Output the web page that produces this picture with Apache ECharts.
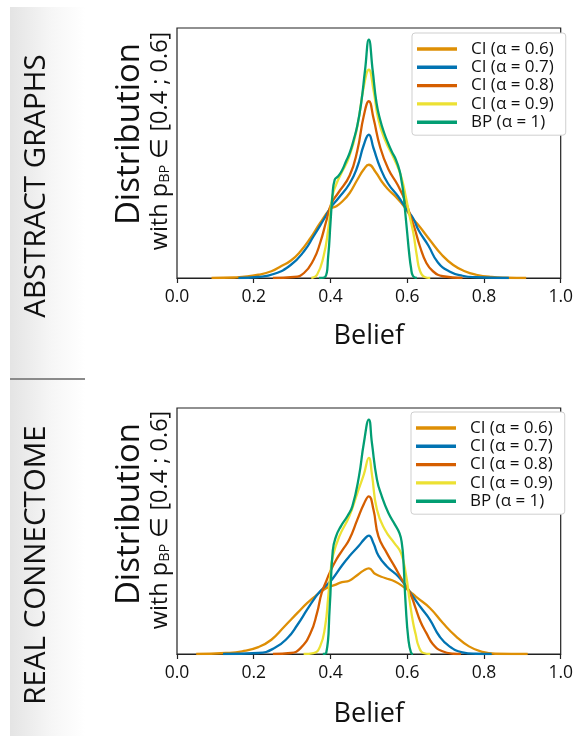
<!DOCTYPE html>
<html>
<head>
<meta charset="utf-8">
<script src="https://cdn.jsdelivr.net/npm/echarts@6/dist/echarts.min.js"></script>
<style>html,body{margin:0;padding:0;background:#fff;}#c{width:576px;height:736px;}</style>
</head>
<body>
<div id="c"></div>
<script>
// ---------- data ----------
const seriesNames = ['CI (α = 0.6)', 'CI (α = 0.7)', 'CI (α = 0.8)', 'CI (α = 0.9)', 'BP (α = 1)'];
const xTicks = [0.0, 0.2, 0.4, 0.6, 0.8, 1.0];
const panelTitles = ['ABSTRACT GRAPHS', 'REAL CONNECTOME'];

// Abstract graphs panel: [belief, density (arbitrary units)]
const topOrange = [[0.09,0],[0.15,0.02],[0.17,0.04],[0.212,0.13],[0.246,0.27],[0.271,0.47],[0.297,0.7],[0.322,1.07],[0.348,1.6],[0.373,2.2],[0.399,2.75],[0.415,2.87],[0.43,3.05],[0.45,3.4],[0.47,3.93],[0.487,4.35],[0.5,4.53],[0.517,4.25],[0.534,3.85],[0.55,3.55],[0.57,3.25],[0.59,2.9],[0.61,2.45],[0.63,2.1],[0.66,1.5],[0.69,0.93],[0.72,0.52],[0.75,0.27],[0.78,0.13],[0.82,0.04],[0.86,0.01],[0.91,0]];
const topBlue = [[0.16,0],[0.21,0.04],[0.254,0.17],[0.297,0.53],[0.331,1.07],[0.356,1.67],[0.382,2.33],[0.4,2.8],[0.42,3.18],[0.45,3.78],[0.47,4.45],[0.487,5.33],[0.5,5.73],[0.512,5.2],[0.53,4.4],[0.55,3.78],[0.576,3.27],[0.597,2.78],[0.615,2.4],[0.63,1.9],[0.655,1.3],[0.68,0.62],[0.71,0.26],[0.744,0.09],[0.78,0.03],[0.865,0]];
const topVerm = [[0.25,0],[0.305,0.04],[0.331,0.2],[0.356,0.73],[0.373,1.4],[0.39,2.33],[0.403,3.0],[0.42,3.4],[0.45,4.1],[0.47,5.1],[0.487,6.5],[0.5,7.07],[0.512,6.4],[0.53,5.2],[0.551,4.35],[0.576,3.7],[0.597,3.0],[0.61,2.4],[0.62,1.95],[0.633,1.27],[0.65,0.6],[0.667,0.27],[0.693,0.07],[0.744,0]];
const topYellow = [[0.35,0],[0.365,0.13],[0.382,0.87],[0.394,1.93],[0.405,3.27],[0.415,3.75],[0.427,4.15],[0.449,4.85],[0.47,6.07],[0.487,7.67],[0.5,8.33],[0.512,7.53],[0.525,6.33],[0.542,5.53],[0.567,4.73],[0.584,4.07],[0.597,3.2],[0.606,2.5],[0.616,1.8],[0.625,0.9],[0.633,0.3],[0.645,0.04],[0.66,0]];
const topGreen = [[0.37,0],[0.386,0.04],[0.394,0.87],[0.4,2.2],[0.405,3.27],[0.411,3.93],[0.42,4.07],[0.43,4.3],[0.44,4.65],[0.45,5.0],[0.46,5.5],[0.47,6.1],[0.48,7.0],[0.49,8.3],[0.5,9.53],[0.51,8.3],[0.52,7.0],[0.53,6.3],[0.54,5.8],[0.55,5.4],[0.56,5.05],[0.57,4.75],[0.58,4.3],[0.585,3.9],[0.59,3.4],[0.595,2.6],[0.6,1.8],[0.605,1.0],[0.61,0.4],[0.615,0.08],[0.625,0]];

// Real connectome panel
const botOrange = [[0.05,0],[0.127,0.04],[0.17,0.11],[0.212,0.28],[0.246,0.58],[0.28,1.12],[0.314,1.67],[0.339,2.07],[0.365,2.41],[0.39,2.68],[0.41,2.8],[0.43,2.92],[0.449,2.98],[0.466,3.16],[0.487,3.4],[0.5,3.48],[0.517,3.25],[0.542,3.09],[0.568,2.95],[0.593,2.7],[0.614,2.45],[0.625,2.3],[0.659,1.87],[0.693,1.26],[0.727,0.72],[0.761,0.31],[0.795,0.09],[0.829,0.01],[0.914,0]];
const botBlue = [[0.12,0],[0.212,0.04],[0.254,0.24],[0.288,0.65],[0.314,1.19],[0.339,1.8],[0.356,2.2],[0.373,2.55],[0.39,2.8],[0.405,3.05],[0.43,3.6],[0.449,3.97],[0.474,4.4],[0.49,4.7],[0.5,4.81],[0.512,4.5],[0.525,4.0],[0.547,3.56],[0.576,3.16],[0.597,2.75],[0.612,2.4],[0.635,1.9],[0.659,1.4],[0.684,0.72],[0.71,0.31],[0.744,0.07],[0.778,0.01],[0.82,0]];
const botVerm = [[0.25,0],[0.297,0.04],[0.322,0.24],[0.348,0.85],[0.365,1.67],[0.377,2.48],[0.39,3.0],[0.398,3.3],[0.415,3.83],[0.432,4.24],[0.449,4.65],[0.47,5.46],[0.487,6.1],[0.5,6.41],[0.512,5.87],[0.525,4.78],[0.547,4.1],[0.567,3.56],[0.589,2.95],[0.6,2.7],[0.612,2.3],[0.62,1.95],[0.635,1.3],[0.65,0.85],[0.667,0.4],[0.69,0.12],[0.72,0.01],[0.74,0]];
const botYellow = [[0.33,0],[0.356,0.04],[0.373,0.31],[0.386,1.12],[0.394,2.3],[0.4,3.3],[0.406,3.97],[0.423,4.78],[0.449,5.6],[0.47,6.54],[0.487,7.3],[0.5,7.97],[0.508,7.3],[0.521,5.87],[0.542,5.05],[0.567,4.5],[0.584,4.1],[0.597,3.2],[0.606,2.2],[0.615,1.3],[0.622,0.8],[0.63,0.31],[0.642,0.04],[0.66,0]];
const botGreen = [[0.38,0],[0.389,0.05],[0.398,1.9],[0.406,4.2],[0.415,4.8],[0.427,5.19],[0.444,5.6],[0.457,6.0],[0.474,7.2],[0.487,8.58],[0.5,9.53],[0.508,8.58],[0.521,7.1],[0.534,6.4],[0.551,5.73],[0.568,5.26],[0.58,4.9],[0.586,4.5],[0.59,3.8],[0.596,2.0],[0.603,0.6],[0.61,0.05],[0.615,0]];

const topData = [topOrange, topBlue, topVerm, topYellow, topGreen];
const botData = [botOrange, botBlue, botVerm, botYellow, botGreen];
const colors = ['#DE8F05', '#0173B2', '#D55E00', '#ECE133', '#029E73'];

// ---------- chart ----------
const FONT = 'Open Sans';
const chart = echarts.init(document.getElementById('c'), null, {renderer: 'canvas'});

function xAxisFor(gi, gap) {
  return {
    type: 'value', gridIndex: gi, min: 0, max: 1, interval: 0.2,
    axisLine: {show: true, onZero: false, lineStyle: {color: '#222', width: 1.2}},
    axisTick: {show: true, inside: false, length: 5, lineStyle: {color: '#222', width: 1.2}},
    splitLine: {show: false},
    axisLabel: {color: '#111', fontFamily: FONT, fontSize: 17.5, margin: 10,
      formatter: v => xTicks.find(t => Math.abs(t - v) < 1e-9).toFixed(1)},
    name: 'Belief', nameLocation: 'middle', nameGap: gap,
    nameTextStyle: {color: '#111', fontFamily: FONT, fontSize: 27}
  };
}
function yAxisFor(gi) {
  return {type: 'value', gridIndex: gi, min: 0, max: 10, show: false};
}
function legendFor(left, top) {
  return {
    data: seriesNames.map(n => ({name: n, icon: 'rect'})), orient: 'vertical', left: left, top: top,
    itemWidth: 40, itemHeight: 3.4, itemGap: 0.3,
    padding: [7, 12, 4, 5],
    borderColor: '#cfcfcf', borderWidth: 1, borderRadius: 3, backgroundColor: '#fff',
    selectedMode: false,
    textStyle: {fontFamily: FONT, fontSize: 17, color: '#111', lineHeight: 18, padding: [0, 0, 0, 9]}
  };
}

const series = [];
[topData, botData].forEach((set, gi) => {
  set.forEach((d, i) => {
    series.push({
      type: 'line', name: seriesNames[i], xAxisIndex: gi, yAxisIndex: gi,
      data: d, symbol: 'none', showSymbol: false, smooth: 0.5,
      lineStyle: {color: colors[i], width: 2.3}, itemStyle: {color: colors[i]},
      z: 2 + i, silent: true, animation: false
    });
  });
});

function stripRect(y, h) {
  return {type: 'rect', shape: {x: 10, y: y, width: 75, height: h}, z: -10,
    style: {fill: new echarts.graphic.LinearGradient(0, 0, 1, 0, [
      {offset: 0, color: '#e4e4e4'}, {offset: 0.55, color: '#f6f6f6'}, {offset: 1, color: '#ffffff'}])}};
}
function vText(x, y, text, size, rich) {
  return {type: 'text', x: x, y: y, rotation: Math.PI / 2, z: 10,
    style: {text: text, fontFamily: FONT, fontSize: size, fill: '#111',
      align: 'center', verticalAlign: 'middle', rich: rich || undefined}};
}
const subRich = {
  n: {fontFamily: FONT, fontSize: 23.5, color: '#111', verticalAlign: 'bottom', lineHeight: 29},
  sub: {fontFamily: FONT, fontSize: 14.5, color: '#111', verticalAlign: 'bottom', lineHeight: 24}
};
const subText = '{n|with p}{sub|BP}{n| ∈ [0.4 ; 0.6]}';

const option = {
  animation: false,
  backgroundColor: '#fff',
  grid: [
    {left: 177, top: 28, width: 393, height: 250, show: true, borderColor: '#222', borderWidth: 1.2, backgroundColor: 'transparent'},
    {left: 177, top: 408, width: 393, height: 246, show: true, borderColor: '#222', borderWidth: 1.2, backgroundColor: 'transparent'}
  ],
  xAxis: [xAxisFor(0, 45), xAxisFor(1, 47)],
  yAxis: [yAxisFor(0), yAxisFor(1)],
  legend: [legendFor(412, 33), legendFor(411, 412)],
  series: series,
  graphic: [
    stripRect(7, 371),
    stripRect(380, 356),
    {type: 'line', shape: {x1: 10, y1: 379, x2: 85, y2: 379}, style: {stroke: '#8a8a8a', lineWidth: 2}, z: -5},
    vText(37, 186, panelTitles[0], 29.5),
    vText(37, 565, panelTitles[1], 29.5),
    vText(130, 134, 'Distribution', 33),
    vText(158, 141, subText, 23.5, subRich),
    vText(130, 514, 'Distribution', 33),
    vText(158, 520, subText, 23.5, subRich)
  ]
};
chart.setOption(option);
</script>
</body>
</html>
